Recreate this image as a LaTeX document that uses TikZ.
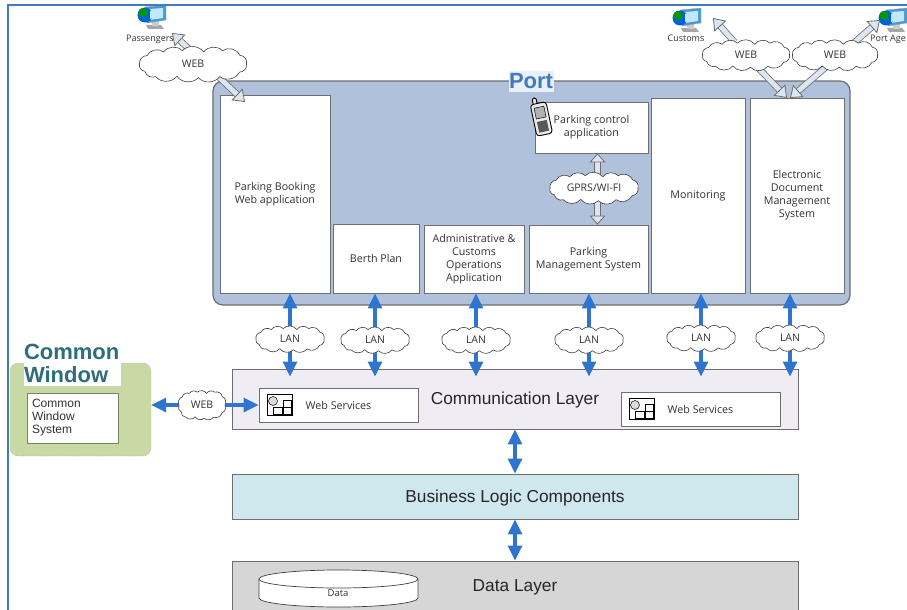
\documentclass[tikz,border=0pt]{standalone}
\usepackage{fontspec}
\setmainfont{Open Sans}
\newfontfamily\arialfont{Liberation Sans}
\usetikzlibrary{arrows.meta}
\definecolor{portfill}{HTML}{AFC1DB}
\definecolor{linkblue}{HTML}{2F75CF}
\definecolor{edgegray}{HTML}{6E6E6E}
\definecolor{hollowfill}{HTML}{DCE6F2}
\definecolor{frameblue}{HTML}{3F7BBE}
\definecolor{commfill}{HTML}{EFEDF3}
\definecolor{logicfill}{HTML}{CFE8EE}
\definecolor{datafill}{HTML}{D6D6D6}
\definecolor{cwfill}{HTML}{C9D9A6}
\definecolor{cwtitle}{HTML}{2E6E78}
\tikzstyle{appbox}=[draw=edgegray, fill=white, line width=0.9pt, align=center, inner sep=1pt, font=\fontsize{10.7}{13}\selectfont, text=black!80]
\tikzstyle{layerbox}=[draw=edgegray, line width=0.9pt, inner sep=0pt, text depth=0pt, font=\arialfont\fontsize{17.3}{20}\selectfont, text=black!85]
\tikzstyle{layertext}=[inner sep=0pt, text depth=0pt, font=\arialfont\fontsize{17.3}{20}\selectfont, text=black!85]
\tikzstyle{cloudline}=[draw=black!75, fill=white, line width=0.6pt]
\tikzstyle{netcloud}=[inner sep=0pt, font=\fontsize{10.5}{12}\selectfont, text=black!80]
\tikzstyle{lanlink}=[linkblue, line width=3.2pt, -{Triangle[width=14pt, length=15pt]}]
\tikzstyle{duallink}=[linkblue, line width=3.2pt, {Triangle[width=14pt, length=15pt]}-{Triangle[width=14pt, length=15pt]}]
\tikzstyle{weblink}=[draw=edgegray, double=hollowfill, double distance=5pt, line width=0.8pt, -{Triangle[width=16pt, length=11pt, fill=hollowfill, line width=0.8pt]}]
\tikzstyle{weblinkb}=[draw=edgegray, double=hollowfill, double distance=5pt, line width=0.8pt, {Triangle[width=16pt, length=9pt, fill=hollowfill, line width=0.8pt]}-{Triangle[width=16pt, length=9pt, fill=hollowfill, line width=0.8pt]}]
\tikzstyle{pclabel}=[inner sep=0pt, font=\fontsize{9}{10}\selectfont, text=black!80]
\pgfdeclarelayer{front}
\pgfsetlayers{main,front}
\newcommand{\pcicon}[2]{
    \begin{scope}[shift={(#1,#2)}]
        \fill[black!35] (9,20) -- (24,20) -- (27,24) -- (11,24) -- cycle;
        \fill[black!20] (15,15) rectangle (22,21);
        \fill[cyan!65!blue!75, draw=black!35, line width=0.4pt] (8,2) -- (29,0) -- (29,15) -- (10,18) -- cycle;
        \fill[cyan!25] (12,4) -- (26,3) -- (26,13) -- (13,15) -- cycle;
        \fill[blue!55!cyan!85!black] (8,10) circle (7.5);
        \fill[green!60!black] (6,7.5) circle (4.5);
        \fill[cyan!25] (13,6) -- (16,5) -- (16,13) -- (13,14) -- cycle;
    \end{scope}
}
\newcommand{\wsicon}[2]{
    \begin{scope}[shift={(#1,#2)}, line width=0.5pt]
        \draw[fill=white] (0,0) rectangle (25,21);
        \draw[fill=black!15] (6,7) circle (4.5);
        \draw (16,6) rectangle (24,13);
        \draw (6,13) rectangle (15,20);
        \draw (16,13) rectangle (24,20);
    \end{scope}
}
% name, centre x, centre y, half width, half height, text
\newcommand{\lancloud}[6]{
    \begin{scope}[shift={(#2,#3)}, x=#4pt, y=#5pt]
        \draw[cloudline] (-1,0) to[bend left=50] (-.86,.6) to[bend left=50] (-.55,.86) to[bend left=50] (-.2,.95) to[bend left=50] (.2,.86) to[bend left=50] (.55,.95) to[bend left=50] (.88,.62) to[bend left=50] (1,0) to[bend left=50] (.87,-.58) to[bend left=50] (.5,-.9) to[bend left=50] (.1,-.98) to[bend left=50] (-.3,-.88) to[bend left=50] (-.7,-.9) to[bend left=50] (-.9,-.52) to[bend left=50] cycle;
    \end{scope}
    \node[netcloud, minimum width=2*#4 pt, minimum height=2*#5 pt] (#1) at (#2,#3) {#6};
}

\begin{document}
\begin{tikzpicture}[x=1pt, y=-1pt]
\useasboundingbox (0, 0) rectangle (907, 610);
% Port
    \node[draw=edgegray, fill=portfill, line width=1.2pt, rounded corners=10pt, minimum width=637pt, minimum height=224pt] (port) at (531.5, 193) {};
    \node[fill=hollowfill!60!white, text=frameblue, inner sep=0pt, minimum width=45pt, minimum height=21pt, font=\arialfont\bfseries\fontsize{22}{22}\selectfont] (porttitle) at (531, 81) {Port};
    \node[appbox, minimum width=110pt, minimum height=198pt] (booking) at (275, 194) {Parking Booking\\Web application};
    \node[appbox, minimum width=86pt, minimum height=69pt] (berth) at (376, 258.5) {Berth Plan};
    \node[appbox, minimum width=100pt, minimum height=68pt] (admin) at (474, 259) {Administrative \&\\Customs\\Operations\\Application};
    \node[appbox, minimum width=119pt, minimum height=68pt] (parksys) at (588.5, 259) {Parking\\Management System};
    \node[appbox, minimum width=113pt, minimum height=51pt] (parkctl) at (591.5, 127.5) {Parking control\\application};
    \node[appbox, minimum width=94pt, minimum height=195pt] (monitor) at (698, 195.5) {Monitoring};
    \node[appbox, minimum width=94pt, minimum height=195pt] (edms) at (797, 195.5) {Electronic\\Document\\Management\\System};
% Phone
    \begin{scope}[shift={(541, 117)}, rotate=12, line width=0.9pt]
        \draw[rounded corners=1.5pt, fill=black!10] (-5, -20) rectangle (-1, -12);
        \draw[rounded corners=3pt, fill=black!8] (-8, -14) rectangle (8, 18);
        \draw[line width=0.5pt, fill=black!30] (-5, -10) rectangle (5, 1);
        \fill[black!65] (-5, 4) rectangle (5, 15);
    \end{scope}
% Layers
    \node[layerbox, fill=commfill, minimum width=566pt, minimum height=60pt] (comm) at (515, 399) {};
    \node[layertext] (commtitle) at (515, 398) {Communication Layer};
    \node[appbox, minimum width=159pt, minimum height=34pt] (wsleft) at (338.5, 405) {Web Services};
    \node[appbox, minimum width=159pt, minimum height=34pt] (wsright) at (700.5, 409) {Web Services};
    \wsicon{267}{394}
    \wsicon{629}{398}
    \node[layerbox, fill=logicfill, minimum width=566pt, minimum height=45pt] (logic) at (515, 496.5) {Business Logic Components};
    \node[layerbox, fill=datafill, minimum width=566pt, minimum height=60pt] (datalayer) at (515, 591) {};
    \node[layertext] (datatitle) at (515, 586) {Data Layer};
% Data store
    \draw[black!75, fill=white, line width=0.7pt] (259, 579) -- (259, 598) arc[start angle=180, end angle=360, x radius=79.5pt, y radius=9pt] -- (418, 579);
    \draw[black!75, fill=white, line width=0.7pt] (338.5, 579) ellipse [x radius=79.5pt, y radius=9pt];
    \node[inner sep=0pt, font=\fontsize{9.5}{10}\selectfont, text=black!80] (datatext) at (338, 593) {Data};
% Common window
    \node[draw=black!45, densely dotted, fill=cwfill, rounded corners=8pt, minimum width=141pt, minimum height=93pt] (cwblock) at (80.5, 409.5) {};
    \node[fill=white, text=cwtitle, align=left, inner sep=0pt, text width=97pt, minimum height=45pt, font=\arialfont\bfseries\fontsize{22}{23}\selectfont] (cwtext) at (72.5, 363.5) {Common\\Window};
    \node[draw=cwfill!60!black, fill=white, align=left, line width=0.9pt, inner sep=5pt, minimum height=50pt, text width=81pt, font=\arialfont\fontsize{12}{13}\selectfont, text=black!80] (cwsys) at (72.5, 418) {Common\\Window\\System};
% Computers
    \pcicon{137}{5}
    \pcicon{672}{8}
    \pcicon{878}{8}
    \node[pclabel] (pax) at (150, 39) {Passengers};
    \node[pclabel] (customs) at (686, 38) {Customs};
    \node[pclabel, anchor=west] (portage) at (870, 39) {Port Age};
% Clouds
\begin{pgfonlayer}{front}
    \lancloud{webpax}{193}{64}{53.5}{14}{WEB}
    \lancloud{webcustoms}{746}{55}{43.5}{12.5}{WEB}
    \lancloud{webagent}{835}{55}{42.5}{12.5}{WEB}
    \lancloud{gprs}{594}{188}{44}{13}{GPRS/WI-FI}
    \lancloud{webcw}{202}{405}{23}{13.5}{WEB}
    \lancloud{lanone}{290}{339}{34}{11}{LAN}
    \lancloud{lantwo}{375}{340}{34}{11}{LAN}
    \lancloud{lanthree}{476}{340}{34}{11}{LAN}
    \lancloud{lanfour}{589}{340}{34}{11}{LAN}
    \lancloud{lanfive}{701}{338}{34}{11}{LAN}
    \lancloud{lansix}{790}{338}{34}{11}{LAN}
\end{pgfonlayer}
% Points where the links end
    \coordinate (paxtip) at (172, 33);
    \coordinate (bookingtip) at (245, 102);
    \coordinate (customstip) at (713, 18);
    \coordinate (agenttip) at (880, 20);
    \coordinate (edmstipa) at (787, 98);
    \coordinate (edmstipb) at (790, 98);
    \coordinate (ctlx) at (597.5, 188);
% Web links
    \draw[weblink] ([xshift=12pt]webpax.center) -- (paxtip);
    \draw[weblink] ([xshift=12pt]webpax.center) -- (bookingtip);
    \draw[weblink] (webcustoms) -- (customstip);
    \draw[weblink] (webcustoms) -- (edmstipa);
    \draw[weblink] ([xshift=5pt]webagent.center) -- (agenttip);
    \draw[weblink] ([xshift=5pt]webagent.center) -- (edmstipb);
    \draw[weblinkb] (ctlx |- parkctl.south) -- (ctlx |- parksys.north);
% LAN links
    \draw[lanlink] (lanone) -- (lanone |- booking.south);
    \draw[lanlink] (lanone) -- ([yshift=-8pt]lanone |- comm.north);
    \draw[lanlink] (lantwo) -- (lantwo |- berth.south);
    \draw[lanlink] (lantwo) -- ([yshift=-8pt]lantwo |- comm.north);
    \draw[lanlink] (lanthree) -- (lanthree |- admin.south);
    \draw[lanlink] (lanthree) -- ([yshift=-8pt]lanthree |- comm.north);
    \draw[lanlink] (lanfour) -- (lanfour |- parksys.south);
    \draw[lanlink] (lanfour) -- ([yshift=-8pt]lanfour |- comm.north);
    \draw[lanlink] (lanfive) -- (lanfive |- monitor.south);
    \draw[lanlink] (lanfive) -- ([yshift=-8pt]lanfive |- comm.north);
    \draw[lanlink] (lansix) -- (lansix |- edms.south);
    \draw[lanlink] (lansix) -- ([yshift=-8pt]lansix |- comm.north);
% Other links
    \draw[lanlink] (webcw) -- (webcw -| cwblock.east);
    \draw[lanlink] (webcw) -- (wsleft.west);
    \draw[duallink] (comm.south) -- (logic.north);
    \draw[duallink] (logic.south) -- (datalayer.north);
% Frame
    \draw[frameblue, line width=2.2pt] (8, 612) -- (8, 5) -- (909, 5);
\end{tikzpicture}
\end{document}
